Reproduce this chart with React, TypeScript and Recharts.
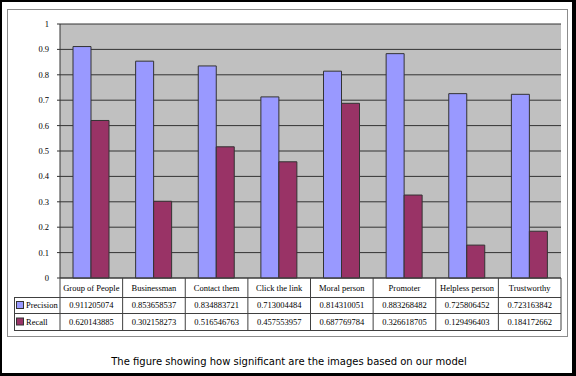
import React from 'react'
import { BarChart, Bar, XAxis, YAxis, CartesianGrid } from 'recharts'

const categories = ['Group of People', 'Businessman', 'Contact them', 'Click the link', 'Moral person', 'Promoter', 'Helpless person', 'Trustworthy']
const precision = [0.911205074, 0.853658537, 0.834883721, 0.713004484, 0.814310051, 0.883268482, 0.725806452, 0.723163842]
const recall = [0.620143885, 0.302158273, 0.516546763, 0.457553957, 0.687769784, 0.326618705, 0.129496403, 0.184172662]
const yTicks = [0, 0.1, 0.2, 0.3, 0.4, 0.5, 0.6, 0.7, 0.8, 0.9, 1]
const caption = 'The figure showing how significant are the images based on our model'

const data = categories.map((name, i) => ({ name, Precision: precision[i], Recall: recall[i] }))

// layout of the plot / data table
const W = 576, H = 376
const PLOT_L = 60, PLOT_R = 561, PLOT_T = 24, PLOT_B = 278
const ROW1 = 297, ROW2 = 313, ROW3 = 330
const band = (PLOT_R - PLOT_L) / categories.length
const LINE = '#404040'
const serif = '"Liberation Serif", "Times New Roman", serif'
const FS = 8.5
const C_PREC = '#9999FF'
const C_REC = '#993366'

function TableTick(props: any) {
  const { x, payload, index } = props
  const i = index ?? categories.indexOf(payload.value)
  return (
    <g>
      <text x={x} y={(PLOT_B + ROW1) / 2} textAnchor="middle" dominantBaseline="central" fontFamily={serif} fontSize={FS} fill="#000">{payload.value}</text>
      <text x={x} y={(ROW1 + ROW2) / 2} textAnchor="middle" dominantBaseline="central" fontFamily={serif} fontSize={FS} fill="#000">{String(precision[i])}</text>
      <text x={x} y={(ROW2 + ROW3) / 2} textAnchor="middle" dominantBaseline="central" fontFamily={serif} fontSize={FS} fill="#000">{String(recall[i])}</text>
      <line x1={x + band / 2} x2={x + band / 2} y1={PLOT_B} y2={ROW3} stroke={LINE} />
    </g>
  )
}

export default function App() {
  return (
    <div style={{ position: 'relative', width: W, height: H, background: '#fff' }}>
      <style>{'body{margin:0}'}</style>
      <div style={{ position: 'absolute', left: 0, top: 0, width: W, height: H, boxSizing: 'border-box', borderStyle: 'solid', borderColor: '#000', borderWidth: '2px 4px 3px 2px' }} />
      <div style={{ position: 'absolute', left: 7, top: 9, width: 561, height: 328, boxSizing: 'border-box', border: '1px solid #8c8c8c' }} />
      <div style={{ position: 'absolute', left: 0, top: 0 }}>
        <BarChart width={W} height={H} data={data} margin={{ top: PLOT_T, right: W - PLOT_R, left: 10, bottom: H - ROW3 }} barSize={18} barGap={0}>
          <CartesianGrid vertical={false} fill="#C0C0C0" stroke="#333" strokeOpacity={1} horizontalValues={yTicks} />
          <YAxis width={50} domain={[0, 1]} ticks={yTicks} interval={0} tickSize={3} tickMargin={8}
            tick={{ fontFamily: serif, fontSize: FS, fill: '#000' }} tickLine={{ stroke: '#333' }} axisLine={{ stroke: '#333' }} />
          <XAxis dataKey="name" height={ROW3 - PLOT_B} interval={0} tickLine={false} axisLine={{ stroke: LINE }} tick={<TableTick />} />
          <Bar dataKey="Precision" fill={C_PREC} stroke="#333" strokeWidth={1} isAnimationActive={false} />
          <Bar dataKey="Recall" fill={C_REC} stroke="#333" strokeWidth={1} isAnimationActive={false} />
        </BarChart>
      </div>
      <svg width={W} height={H} style={{ position: 'absolute', left: 0, top: 0, pointerEvents: 'none' }}>
        <line x1={14} x2={PLOT_R} y1={ROW1 + 0.5} y2={ROW1 + 0.5} stroke={LINE} />
        <line x1={14} x2={PLOT_R} y1={ROW2 + 0.5} y2={ROW2 + 0.5} stroke={LINE} />
        <line x1={14} x2={PLOT_R} y1={ROW3 + 0.5} y2={ROW3 + 0.5} stroke={LINE} />
        <line x1={14.5} x2={14.5} y1={ROW1} y2={ROW3} stroke={LINE} />
        <line x1={PLOT_L} x2={PLOT_L} y1={PLOT_B} y2={ROW3} stroke={LINE} />
        <rect x={16.5} y={(ROW1 + ROW2) / 2 - 3.5} width={7} height={7} fill={C_PREC} stroke="#333" />
        <text x={26} y={(ROW1 + ROW2) / 2} dominantBaseline="central" fontFamily={serif} fontSize={FS}>Precision</text>
        <rect x={16.5} y={(ROW2 + ROW3) / 2 - 3.5} width={7} height={7} fill={C_REC} stroke="#333" />
        <text x={26} y={(ROW2 + ROW3) / 2} dominantBaseline="central" fontFamily={serif} fontSize={FS}>Recall</text>
        <text x={289} y={361} textAnchor="middle" dominantBaseline="central" fontFamily='"DejaVu Sans", Verdana, sans-serif' fontSize={10} fill="#000">{caption}</text>
      </svg>
    </div>
  )
}
